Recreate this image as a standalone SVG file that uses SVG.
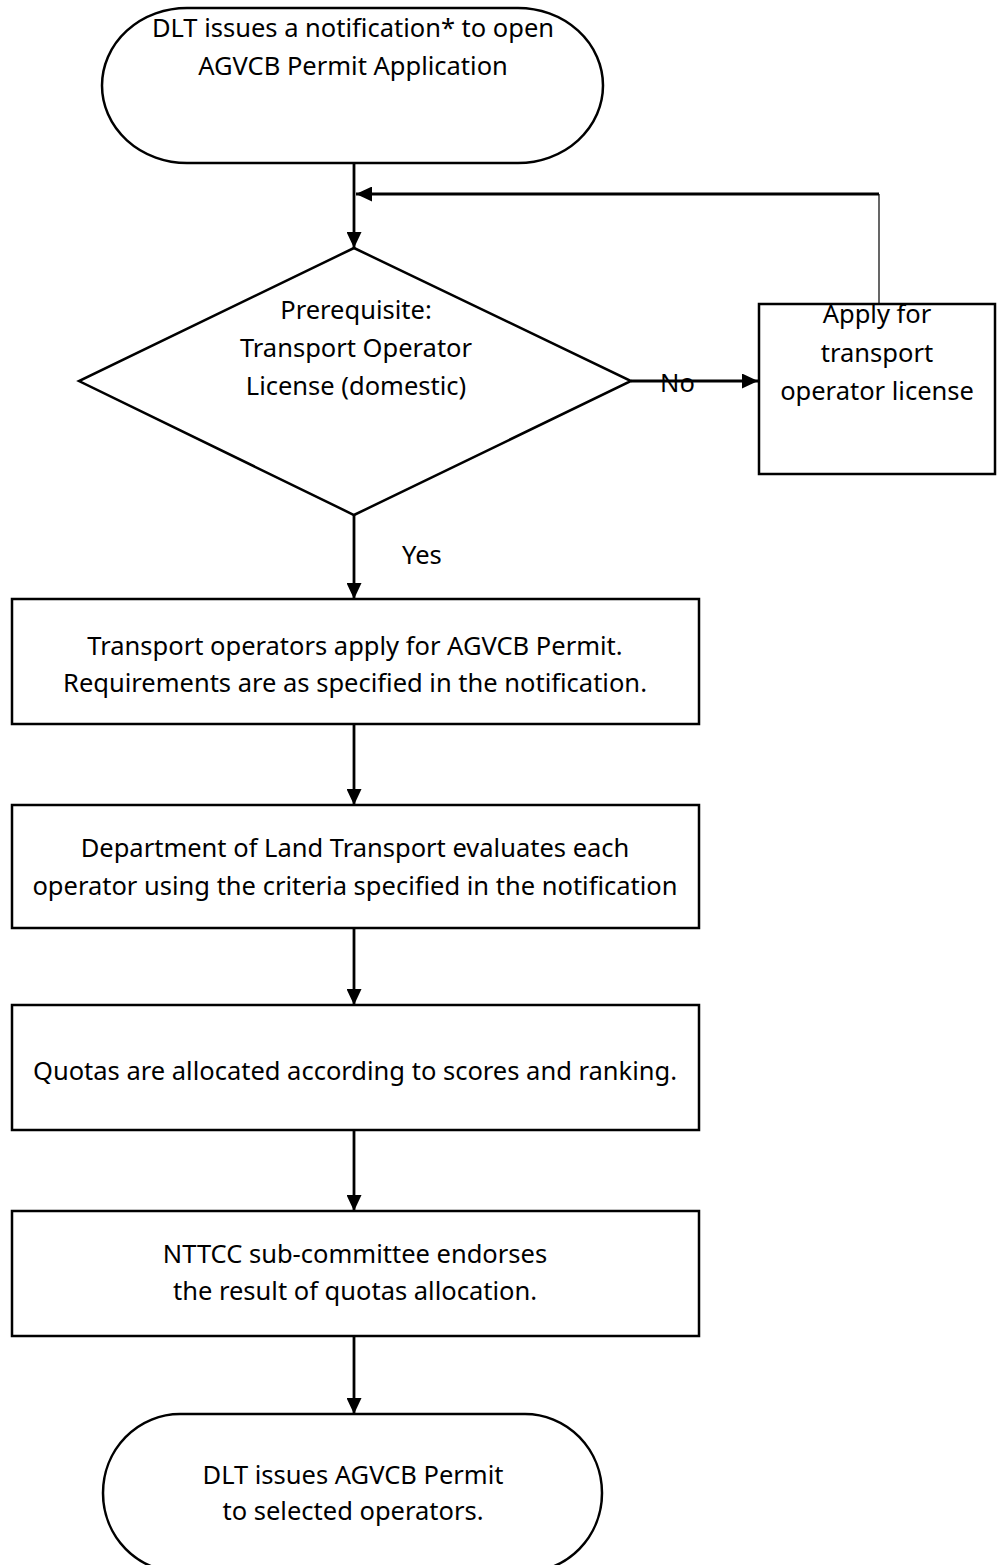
<svg xmlns="http://www.w3.org/2000/svg" width="997" height="1565" viewBox="0 0 997 1565">
<style>
.s{fill:#fff;stroke:#000;stroke-width:2.5}
.t{font-family:"Noto Sans","Open Sans",sans-serif;font-size:25.5px;fill:#000;text-anchor:middle}
.l{font-family:"Noto Sans","Open Sans",sans-serif;font-size:25.5px;fill:#000}
.c{fill:none;stroke:#000;stroke-width:2.8}
.thin{fill:none;stroke:#000;stroke-width:1.2}
</style>
<defs>
<marker id="ah" markerUnits="userSpaceOnUse" markerWidth="16" markerHeight="15" refX="16" refY="7.5" orient="auto">
<path d="M0,0 L16,7.5 L0,15 Z" fill="#000"/>
</marker>
</defs>
<rect width="997" height="1565" fill="#fff"/>
<g id="start">
<path class="s" d="M187,8 H518 A85,77.5 0 0 1 603,85.5 A85,77.5 0 0 1 518,163 H187 A85,77.5 0 0 1 102,85.5 A85,77.5 0 0 1 187,8 Z"/>
<text class="t" x="353" y="37">DLT issues a notification* to open</text>
<text class="t" x="353" y="75">AGVCB Permit Application</text>
</g>
<g id="decision">
<polygon class="s" points="354,248 631,381 354,515 79,381"/>
<text class="t" x="356" y="319">Prerequisite:</text>
<text class="t" x="356" y="357">Transport Operator</text>
<text class="t" x="356" y="395">License (domestic)</text>
</g>
<g id="applyLicense">
<rect class="s" x="759" y="304" width="236" height="170"/>
<text class="t" x="877" y="323">Apply for</text>
<text class="t" x="877" y="362">transport</text>
<text class="t" x="877" y="400">operator license</text>
</g>
<g id="applyPermit">
<rect class="s" x="12" y="599" width="687" height="125"/>
<text class="t" x="355" y="655">Transport operators apply for AGVCB Permit.</text>
<text class="t" x="355" y="692">Requirements are as specified in the notification.</text>
</g>
<g id="evaluate">
<rect class="s" x="12" y="805" width="687" height="123"/>
<text class="t" x="355" y="857">Department of Land Transport evaluates each</text>
<text class="t" x="355" y="895">operator using the criteria specified in the notification</text>
</g>
<g id="allocate">
<rect class="s" x="12" y="1005" width="687" height="125"/>
<text class="t" x="355" y="1080">Quotas are allocated according to scores and ranking.</text>
</g>
<g id="endorse">
<rect class="s" x="12" y="1211" width="687" height="125"/>
<text class="t" x="355" y="1263">NTTCC sub-committee endorses</text>
<text class="t" x="355" y="1300">the result of quotas allocation.</text>
</g>
<g id="end">
<path class="s" d="M180,1414 H525 A77,79 0 0 1 602,1493 A77,79 0 0 1 525,1572 H180 A77,79 0 0 1 103,1493 A77,79 0 0 1 180,1414 Z"/>
<text class="t" x="353" y="1484">DLT issues AGVCB Permit</text>
<text class="t" x="353" y="1520">to selected operators.</text>
</g>
<g id="connectors">
<path class="c" d="M354,163 V248" marker-end="url(#ah)"/>
<path class="thin" d="M879,304 V194"/>
<path class="c" d="M879,194 H356" marker-end="url(#ah)"/>
<path class="c" d="M631,381 H758" marker-end="url(#ah)"/>
<path class="c" d="M354,515 V599" marker-end="url(#ah)"/>
<path class="c" d="M354,724 V805" marker-end="url(#ah)"/>
<path class="c" d="M354,928 V1005" marker-end="url(#ah)"/>
<path class="c" d="M354,1130 V1211" marker-end="url(#ah)"/>
<path class="c" d="M354,1336 V1414" marker-end="url(#ah)"/>
<text class="l" x="402" y="564">Yes</text>
<text class="l" x="660" y="392">No</text>
</g>
</svg>
